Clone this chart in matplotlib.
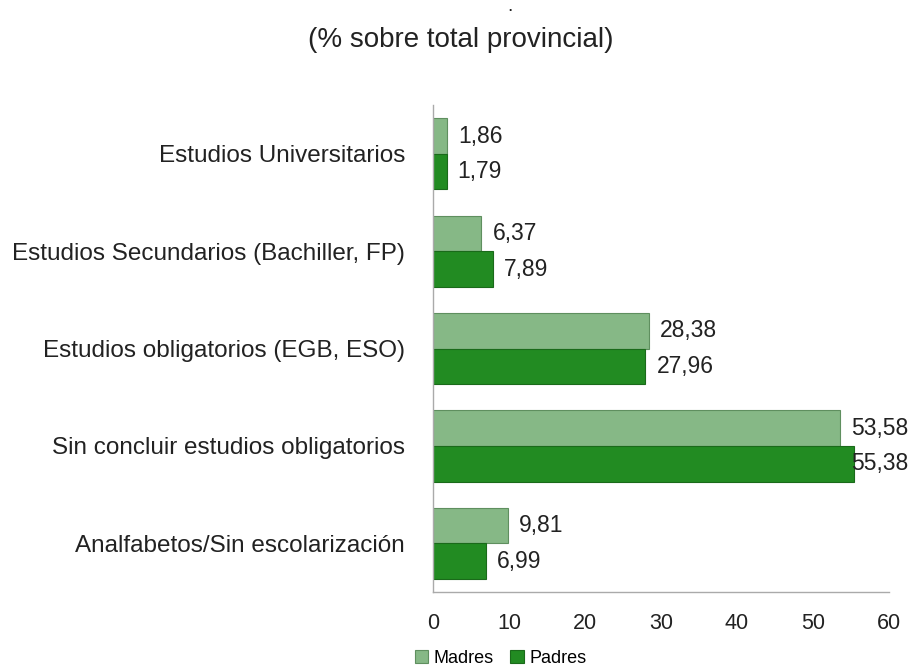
import matplotlib.pyplot as plt
import numpy as np

plt.rcParams['font.family'] = ['Liberation Sans', 'DejaVu Sans']

# Data
categorias = ["Estudios Universitarios",
              "Estudios Secundarios (Bachiller, FP)",
              "Estudios obligatorios (EGB, ESO)",
              "Sin concluir estudios obligatorios",
              "Analfabetos/Sin escolarización"]
madres = [1.86, 6.37, 28.38, 53.58, 9.81]
padres = [1.79, 7.89, 27.96, 55.38, 6.99]
xticks = [0, 10, 20, 30, 40, 50, 60]

col_madres = "#86b886"
col_padres = "#228b22"

fig = plt.figure(figsize=(9.22, 6.7), dpi=100)
ax = fig.add_axes([0.4696, 0.1164, 0.4946, 0.7266])

y = np.arange(len(categorias))
h = 0.365

b1 = ax.barh(y - h / 2, madres, height=h, color=col_madres,
             edgecolor="#5f8f5f", linewidth=0.8, label="Madres")
b2 = ax.barh(y + h / 2, padres, height=h, color=col_padres,
             edgecolor="#1a6a1a", linewidth=0.8, label="Padres")

# value labels (the long ones are pulled back inside the plot area)
for yy, v in zip(y - h / 2, madres):
    ax.annotate(f"{v:.2f}".replace(".", ","), (min(v, 53.6), yy),
                xytext=(8, 0), textcoords="offset points",
                va="center", ha="left", fontsize=16.5, color="#222222")
for yy, v in zip(y + h / 2, padres):
    ax.annotate(f"{v:.2f}".replace(".", ","), (min(v, 53.6), yy),
                xytext=(8, 0), textcoords="offset points",
                va="center", ha="left", fontsize=16.5, color="#222222")

ax.set_xlim(0, 60)
ax.set_ylim(-0.5, len(categorias) - 0.5)
ax.invert_yaxis()
ax.set_xticks(xticks)
ax.set_yticks(y)
ax.set_yticklabels(categorias, fontsize=17.5)
ax.tick_params(axis="both", length=0, colors="#222222")
ax.tick_params(axis="x", pad=15, labelsize=15.5)
ax.tick_params(axis="y", pad=20)

for s in ["top", "right"]:
    ax.spines[s].set_visible(False)
for s in ["left", "bottom"]:
    ax.spines[s].set_color("#aaaaaa")
    ax.spines[s].set_linewidth(1)

# Title
fig.text(0.5, 0.94, "(% sobre total provincial)", ha="center", va="center",
         fontsize=20, color="#222222")
fig.text(0.553, 0.99, ".", ha="center", va="center", fontsize=14, color="#222222")

fig.legend(handles=[b1, b2], labels=["Madres", "Padres"], loc="lower center",
           bbox_to_anchor=(0.543, -0.02), ncol=2, frameon=False, fontsize=13,
           handlelength=0.75, handleheight=0.75, handletextpad=0.3,
           columnspacing=0.9)

fig.savefig("out.png", dpi=100)
